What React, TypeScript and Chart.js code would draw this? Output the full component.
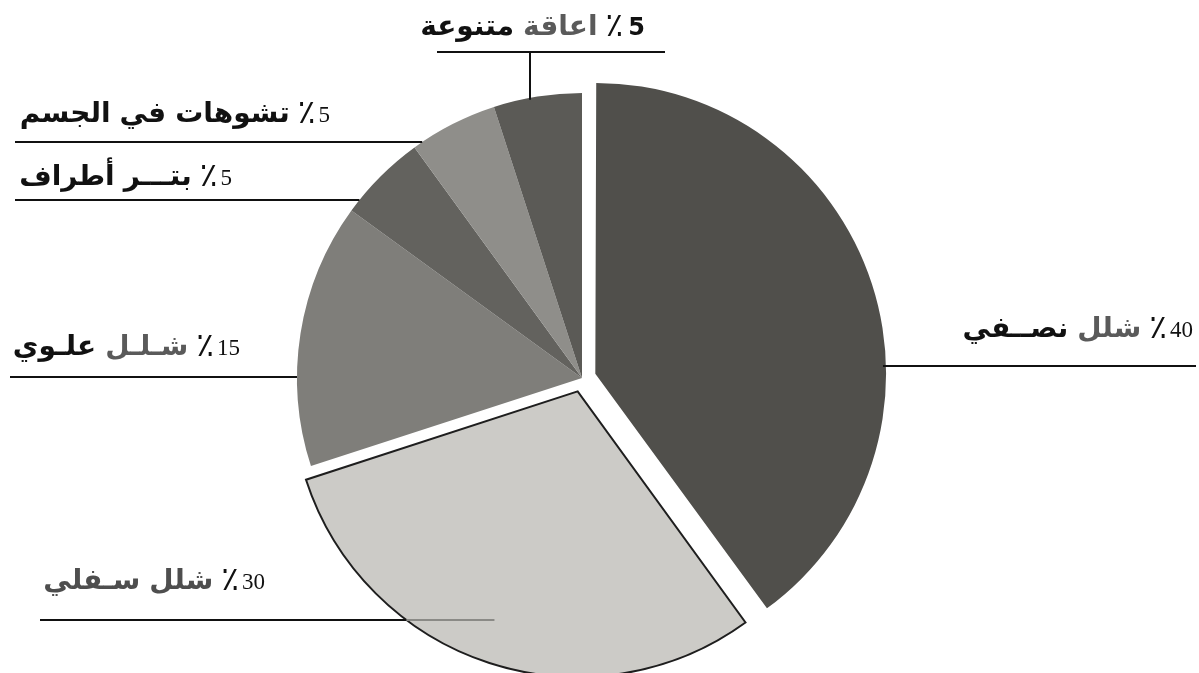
import React, { useEffect, useRef } from 'react';
import { Chart, registerables } from 'chart.js';

Chart.register(...registerables);

// ---- data ----
const categories = ['شلل نصفي', 'شلل سفلي', 'شلل علوي', 'بتر أطراف', 'تشوهات في الجسم', 'اعاقة متنوعة'];
const values = [40, 30, 15, 5, 5, 5];
const labelWords = [
  ['شلل', 'نصــفي'],
  ['شلل', 'سـفلي'],
  ['شـلـل', 'علـوي'],
  ['بتـــر', 'أطراف'],
  ['تشوهات', 'في', 'الجسم'],
  ['اعاقة', 'متنوعة'],
];
const percentSign = '٪';

// ---- styles / layout ----
const sliceColors = ['#504f4b', '#cccbc7', '#7f7e7a', '#63625e', '#8f8e8a', '#5b5a56'];
const sliceOffsets = [56, 56, 0, 0, 0, 0];
const sliceBorderWidths = [0, 2, 0, 0, 0, 0];
const sliceBorderColors = ['#ffffff', '#1e1e1e', '#ffffff', '#ffffff', '#ffffff', '#ffffff'];
const wordColors = [
  ['#5a5a5a', '#111111'],
  ['#4e4e4e', '#4e4e4e'],
  ['#5a5a5a', '#111111'],
  ['#111111', '#111111'],
  ['#111111', '#111111', '#111111'],
  ['#5a5a5a', '#111111'],
];
type Layout = {
  textRight: number; baseline: number; lineY: number; side: 'left' | 'right' | 'top';
  lineStart?: number; lineEnd?: number; extend?: number; dropX?: number; boldNumber?: boolean;
};
const labelLayout: Layout[] = [
  { textRight: 1193, baseline: 337, lineY: 366, side: 'right', lineEnd: 1196 },
  { textRight: 265, baseline: 589, lineY: 620, side: 'left', lineStart: 40, extend: 88 },
  { textRight: 240, baseline: 355, lineY: 377, side: 'left', lineStart: 10 },
  { textRight: 232, baseline: 185, lineY: 200, side: 'left', lineStart: 15 },
  { textRight: 330, baseline: 122, lineY: 142, side: 'left', lineStart: 15 },
  { textRight: 645, baseline: 35, lineY: 52, side: 'top', lineStart: 437, lineEnd: 665, dropX: 530, boldNumber: true },
];
const ARABIC_FONT = 'bold 28px "DejaVu Sans"';
const NUMBER_FONT = '23px "Liberation Serif"';
const PERCENT_FONT = '33px "DejaVu Sans"';
const NUMBER_BOLD_FONT = 'bold 24px "DejaVu Sans"';

const labelPlugin = {
  id: 'leaderLabels',
  afterDatasetsDraw(chart: any) {
    const ctx: CanvasRenderingContext2D = chart.ctx;
    const meta = chart.getDatasetMeta(0);
    ctx.save();
    meta.data.forEach((el: any, i: number) => {
      const L = labelLayout[i];
      if (!L) return;
      const p = el.getProps(['x', 'y', 'startAngle', 'endAngle', 'outerRadius'], true);
      const mid = (p.startAngle + p.endAngle) / 2;
      const off = sliceOffsets[i] / 4;
      const circ = p.endAngle - p.startAngle;
      const fix = 1 - Math.sin(Math.min(Math.PI, circ));
      const cx = p.x + Math.cos(mid) * off;
      const cy = p.y + Math.sin(mid) * off;
      const R = p.outerRadius + off * fix;

      ctx.strokeStyle = '#111';
      ctx.lineWidth = 2;
      ctx.beginPath();
      if (L.side === 'left') {
        const ax = cx - Math.sqrt(Math.max(R * R - (L.lineY - cy) ** 2, 0));
        ctx.moveTo(L.lineStart!, L.lineY);
        ctx.lineTo(ax, L.lineY);
        ctx.stroke();
        if (L.extend) {
          ctx.strokeStyle = '#8a8a86';
          ctx.beginPath();
          ctx.moveTo(ax, L.lineY);
          ctx.lineTo(ax + L.extend, L.lineY);
          ctx.stroke();
        }
      } else if (L.side === 'right') {
        const ax = cx + Math.sqrt(Math.max(R * R - (L.lineY - cy) ** 2, 0));
        ctx.moveTo(ax - 3, L.lineY);
        ctx.lineTo(L.lineEnd!, L.lineY);
        ctx.stroke();
      } else {
        const ay = cy - Math.sqrt(Math.max(R * R - (L.dropX! - cx) ** 2, 0));
        ctx.moveTo(L.lineStart!, L.lineY);
        ctx.lineTo(L.lineEnd!, L.lineY);
        ctx.moveTo(L.dropX!, L.lineY);
        ctx.lineTo(L.dropX!, ay + 2);
        ctx.stroke();
      }

      // text, drawn right-to-left
      let x = L.textRight;
      ctx.textAlign = 'right';
      ctx.textBaseline = 'alphabetic';
      ctx.fillStyle = '#111';
      ctx.font = L.boldNumber ? NUMBER_BOLD_FONT : NUMBER_FONT;
      const num = String(values[i]);
      ctx.fillText(num, x, L.baseline);
      x -= ctx.measureText(num).width + (L.boldNumber ? 5 : 3);
      ctx.font = PERCENT_FONT;
      ctx.fillText(percentSign, x, L.baseline + 1);
      x -= ctx.measureText(percentSign).width + 8;
      ctx.font = ARABIC_FONT;
      labelWords[i].forEach((w, k) => {
        ctx.fillStyle = wordColors[i][k];
        ctx.fillText(w, x, L.baseline);
        x -= ctx.measureText(w).width + 9;
      });
    });
    ctx.restore();
  },
};

export default function App() {
  const ref = useRef<HTMLCanvasElement>(null);
  useEffect(() => {
    if (!ref.current) return;
    const chart = new Chart(ref.current, {
      type: 'pie',
      data: {
        labels: categories,
        datasets: [
          {
            data: values,
            backgroundColor: sliceColors,
            borderColor: sliceBorderColors,
            borderWidth: sliceBorderWidths,
            offset: sliceOffsets,
            borderJoinStyle: 'miter',
          } as any,
        ],
      },
      options: {
        responsive: false,
        animation: false,
        radius: 285,
        layout: { padding: { left: 0, right: 35, top: 83, bottom: 0 } },
        plugins: { legend: { display: false }, tooltip: { enabled: false } },
      } as any,
      plugins: [labelPlugin],
    });
    return () => chart.destroy();
  }, []);
  return (
    <div style={{ position: 'absolute', left: 0, top: 0, width: 1199, height: 673, background: '#ffffff' }}>
      <canvas ref={ref} width={1199} height={673} />
    </div>
  );
}
